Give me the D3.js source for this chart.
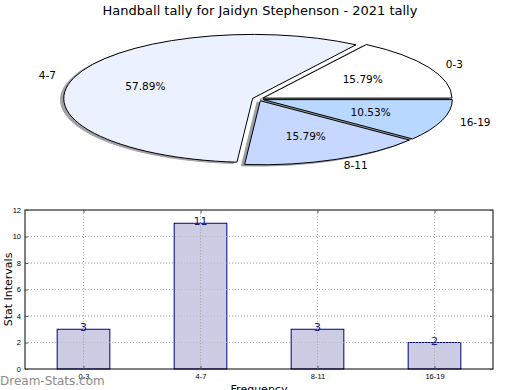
<!DOCTYPE html>
<html>
<head>
<meta charset="utf-8">
<script src="https://cdn.jsdelivr.net/npm/d3@7"></script>
<style>
  body { margin: 0; background: #fff; }
  svg { display: block; font-family: "DejaVu Sans", sans-serif; }
</style>
</head>
<body>
<div id="chart"></div>
<script>
const title = 'Handball tally for Jaidyn Stephenson - 2021 tally';
const categories = ['0-3', '4-7', '8-11', '16-19'];
const counts = [3, 11, 3, 2];
const sliceColors = ['#ffffff', '#ebf1ff', '#c6d8ff', '#b8d8ff'];
const yTicks = [0, 2, 4, 6, 8, 10, 12];

const W = 520, H = 390;
const svg = d3.select('#chart').append('svg')
  .attr('width', W)
  .attr('height', H);

svg.append('text')
  .attr('x', 260)
  .attr('y', 15)
  .attr('text-anchor', 'middle')
  .style('font-size', '13px')
  .text(title);

// ---- pie (elliptical, exploded, with shadow) ----
const cx = 258, cy = 99, rx = 189, ry = 64;
const explode = 0.03;
const total = d3.sum(counts);

// matplotlib style: start at 3 o'clock, go counterclockwise
const pie = d3.pie().sort(null)
  .startAngle(Math.PI / 2)
  .endAngle(Math.PI / 2 - 2 * Math.PI);
const arcs = pie(counts);
const arc = d3.arc().innerRadius(0).outerRadius(1);

const pieG = svg.append('g');

const offsetOf = (d, k) => {
  const mid = (d.startAngle + d.endAngle) / 2;
  return [k * Math.sin(mid), -k * Math.cos(mid)];
};

const shade = c => {
  const rgb = d3.rgb(c);
  return d3.rgb(rgb.r * 0.3, rgb.g * 0.3, rgb.b * 0.3).toString();
};

// shadows first, below all wedges
pieG.selectAll('.shadow')
  .data(arcs)
  .enter()
  .append('path')
  .attr('class', 'shadow')
  .attr('transform', d => {
    const [ox, oy] = offsetOf(d, explode);
    return `translate(${cx + (ox - 0.017) * rx},${cy + (oy + 0.02) * ry}) scale(${rx},${ry})`;
  })
  .attr('d', arc)
  .attr('fill', (d, i) => shade(sliceColors[i]))
  .attr('stroke', (d, i) => shade(sliceColors[i]))
  .attr('vector-effect', 'non-scaling-stroke')
  .attr('opacity', 0.5);

pieG.selectAll('.wedge')
  .data(arcs)
  .enter()
  .append('path')
  .attr('class', 'wedge')
  .attr('transform', d => {
    const [ox, oy] = offsetOf(d, explode);
    return `translate(${cx + ox * rx},${cy + oy * ry}) scale(${rx},${ry})`;
  })
  .attr('d', arc)
  .attr('fill', (d, i) => sliceColors[i])
  .attr('stroke', '#000')
  .attr('stroke-width', 1)
  .attr('stroke-linejoin', 'miter')
  .attr('vector-effect', 'non-scaling-stroke');

// outer labels
pieG.selectAll('.pie-label')
  .data(arcs)
  .enter()
  .append('text')
  .attr('class', 'pie-label')
  .each(function (d, i) {
    const [ox, oy] = offsetOf(d, explode + 1.1);
    d3.select(this)
      .attr('x', cx + ox * rx)
      .attr('y', cy + oy * ry)
      .attr('dy', '0.35em')
      .attr('text-anchor', ox >= 0 ? 'start' : 'end')
      .text(categories[i]);
  })
  .style('font-size', '10.5px');

// percentages
pieG.selectAll('.pct')
  .data(arcs)
  .enter()
  .append('text')
  .attr('class', 'pct')
  .attr('x', d => cx + offsetOf(d, explode + 0.6)[0] * rx)
  .attr('y', d => cy + offsetOf(d, explode + 0.6)[1] * ry)
  .attr('dy', '0.35em')
  .attr('text-anchor', 'middle')
  .style('font-size', '10.5px')
  .text(d => (d.value / total * 100).toFixed(2) + '%');

// ---- bar chart ----
const margin = { left: 25, top: 210, right: 27, bottom: 21 };
const bw = W - margin.left - margin.right;
const bh = H - margin.top - margin.bottom;

const g = svg.append('g')
  .attr('transform', `translate(${margin.left},${margin.top})`);

const x = d3.scalePoint()
  .domain(categories)
  .range([0, bw])
  .padding(0.5);
const barW = x.step() * 0.45;

const y = d3.scaleLinear()
  .domain([0, 12])
  .range([bh, 0]);

// grid
g.selectAll('.hgrid')
  .data(yTicks.filter(t => t > 0 && t < 12))
  .enter()
  .append('line')
  .attr('x1', 0).attr('x2', bw)
  .attr('y1', d => y(d)).attr('y2', d => y(d))
  .attr('stroke', '#b0b0b0')
  .attr('stroke-dasharray', '1,2');

g.selectAll('.vgrid')
  .data(categories)
  .enter()
  .append('line')
  .attr('x1', d => x(d)).attr('x2', d => x(d))
  .attr('y1', 0).attr('y2', bh)
  .attr('stroke', '#b0b0b0')
  .attr('stroke-dasharray', '1,2');

g.selectAll('.bar')
  .data(counts)
  .enter()
  .append('rect')
  .attr('x', (d, i) => x(categories[i]) - barW / 2)
  .attr('y', d => y(d))
  .attr('width', barW)
  .attr('height', d => bh - y(d))
  .attr('fill', '#ccccE5')
  .attr('stroke', '#000080')
  .attr('stroke-width', 1);

// grid shows through the bars (drawn on top)
g.selectAll('.vgrid2')
  .data(categories)
  .enter()
  .append('line')
  .attr('x1', d => x(d)).attr('x2', d => x(d))
  .attr('y1', d => y(counts[categories.indexOf(d)])).attr('y2', bh)
  .attr('stroke', '#a0a0a0')
  .attr('stroke-dasharray', '1,2');

g.selectAll('.hgrid2')
  .data(yTicks.filter(t => t > 0 && t < 12))
  .enter()
  .append('line')
  .attr('x1', 0).attr('x2', bw)
  .attr('y1', d => y(d)).attr('y2', d => y(d))
  .attr('stroke', '#b0b0b0')
  .attr('stroke-dasharray', '1,2')
  .attr('opacity', 0.6);

g.selectAll('.val')
  .data(counts)
  .enter()
  .append('text')
  .attr('x', (d, i) => x(categories[i]))
  .attr('y', d => y(d) + 2)
  .attr('text-anchor', 'middle')
  .attr('fill', '#1a1a80')
  .style('font-size', '11px')
  .text(d => d);

// axes frame
g.append('rect')
  .attr('width', bw)
  .attr('height', bh)
  .attr('fill', 'none')
  .attr('stroke', '#000')
  .attr('stroke-width', 1);

const yAxis = g.append('g')
  .call(d3.axisLeft(y).tickValues(yTicks).tickSize(-3).tickPadding(4));
yAxis.select('.domain').remove();
yAxis.selectAll('.tick text').style('font-size', '7.5px').attr('fill', '#000');

const yAxisR = g.append('g')
  .attr('transform', `translate(${bw},0)`)
  .call(d3.axisRight(y).tickValues(yTicks).tickSize(-3).tickFormat(''));
yAxisR.select('.domain').remove();

const xAxis = g.append('g')
  .attr('transform', `translate(0,${bh})`)
  .call(d3.axisBottom(x).tickSize(-3).tickPadding(5));
xAxis.select('.domain').remove();
xAxis.selectAll('.tick text').style('font-size', '7.5px').attr('fill', '#000');

const xAxisT = g.append('g')
  .call(d3.axisTop(x).tickSize(-3).tickFormat(''));
xAxisT.select('.domain').remove();

svg.selectAll('.tick line').attr('stroke', '#555');

svg.append('text')
  .attr('transform', `translate(8,${margin.top + bh / 2}) rotate(-90)`)
  .attr('text-anchor', 'middle')
  .attr('dy', '0.35em')
  .style('font-size', '11px')
  .text('Stat Intervals');

svg.append('text')
  .attr('x', margin.left + bw / 2)
  .attr('y', 393)
  .attr('text-anchor', 'middle')
  .style('font-size', '11px')
  .text('Frequency');

svg.append('text')
  .attr('x', 0)
  .attr('y', 385)
  .attr('fill', '#8a8a8a')
  .style('font-size', '12px')
  .text('Dream-Stats.com');
</script>
</body>
</html>
